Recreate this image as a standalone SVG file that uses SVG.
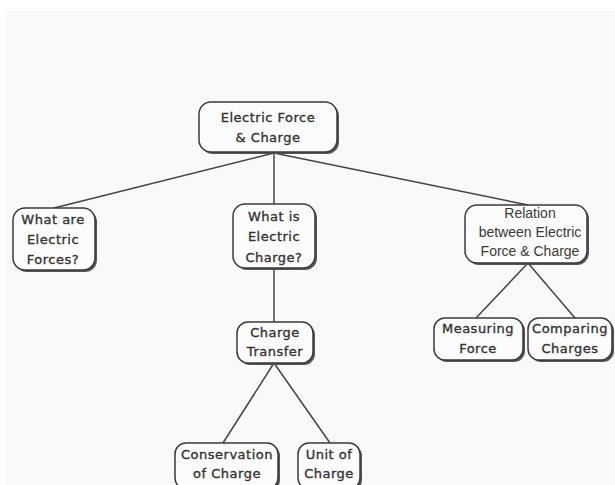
<svg xmlns="http://www.w3.org/2000/svg" width="615" height="485" viewBox="0 0 615 485">
<defs>
<style>
.box{fill:#fcfcfc;stroke:#3a3a3a;stroke-width:1.5}
.shadow{fill:#555;stroke:none}
.t{font-family:"DejaVu Sans",sans-serif;font-size:13px;letter-spacing:0.5px;fill:#333;stroke:#333;stroke-width:0.35;text-anchor:middle}
.h{font-family:"Liberation Sans",Arial,sans-serif;font-size:14px;fill:#3a3a3a;text-anchor:middle}
.c{stroke:#444;stroke-width:1.5;fill:none}
</style>
</defs>
<rect x="0" y="0" width="615" height="485" fill="#ffffff"/>
<rect x="5" y="11" width="610" height="474" fill="#f9f9f9"/>
<g id="connectors">
<line class="c" x1="274" y1="153" x2="54" y2="208"/>
<line class="c" x1="274" y1="153" x2="274" y2="204"/>
<line class="c" x1="274" y1="153" x2="528" y2="205"/>
<line class="c" x1="274" y1="268" x2="274" y2="322"/>
<line class="c" x1="528" y1="263" x2="476" y2="318"/>
<line class="c" x1="528" y1="263" x2="575" y2="318"/>
<line class="c" x1="274" y1="363" x2="223" y2="443"/>
<line class="c" x1="274" y1="363" x2="330" y2="443"/>
</g>
<g id="root">
<rect class="shadow" x="201" y="104" width="138" height="50" rx="12"/>
<rect class="box" x="199" y="102" width="138" height="50" rx="12"/>
<text class="t" x="268" y="122">Electric Force</text>
<text class="t" x="268" y="142">&amp; Charge</text>
</g>
<g id="what-are-forces">
<rect class="shadow" x="15" y="210" width="82" height="62" rx="12"/>
<rect class="box" x="13" y="208" width="82" height="62" rx="12"/>
<text class="t" x="53" y="224">What are</text>
<text class="t" x="53" y="244">Electric</text>
<text class="t" x="53" y="264">Forces?</text>
</g>
<g id="what-is-charge">
<rect class="shadow" x="235" y="206" width="82" height="64" rx="12"/>
<rect class="box" x="233" y="204" width="82" height="64" rx="12"/>
<text class="t" x="274" y="221">What is</text>
<text class="t" x="274" y="241">Electric</text>
<text class="t" x="274" y="262">Charge?</text>
</g>
<g id="relation">
<rect class="shadow" x="467" y="207" width="122" height="58" rx="12"/>
<rect class="box" x="465" y="205" width="122" height="58" rx="12"/>
<text class="h" x="530" y="218">Relation</text>
<text class="h" x="530" y="237">between Electric</text>
<text class="h" x="530" y="256">Force &amp; Charge</text>
</g>
<g id="measuring-force">
<rect class="shadow" x="436" y="320" width="89" height="42" rx="11"/>
<rect class="box" x="434" y="318" width="89" height="42" rx="11"/>
<text class="t" x="478" y="333">Measuring</text>
<text class="t" x="478" y="353">Force</text>
</g>
<g id="comparing-charges">
<rect class="shadow" x="530" y="320" width="84" height="42" rx="11"/>
<rect class="box" x="528" y="318" width="84" height="42" rx="11"/>
<text class="t" x="570" y="333">Comparing</text>
<text class="t" x="570" y="353">Charges</text>
</g>
<g id="charge-transfer">
<rect class="shadow" x="239" y="324" width="76" height="41" rx="11"/>
<rect class="box" x="237" y="322" width="76" height="41" rx="11"/>
<text class="t" x="275" y="337">Charge</text>
<text class="t" x="275" y="356">Transfer</text>
</g>
<g id="conservation">
<rect class="shadow" x="177" y="445" width="103" height="46" rx="11"/>
<rect class="box" x="175" y="443" width="103" height="46" rx="11"/>
<text class="t" x="227" y="459">Conservation</text>
<text class="t" x="227" y="478">of Charge</text>
</g>
<g id="unit-of-charge">
<rect class="shadow" x="300" y="445" width="62" height="46" rx="11"/>
<rect class="box" x="298" y="443" width="62" height="46" rx="11"/>
<text class="t" x="329" y="459">Unit of</text>
<text class="t" x="329" y="478">Charge</text>
</g>
</svg>
